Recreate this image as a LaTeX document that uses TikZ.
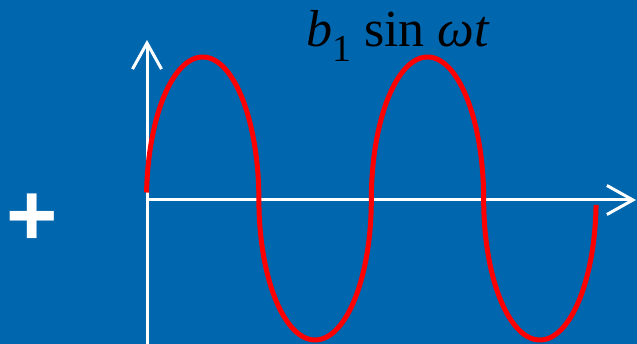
\documentclass[tikz,border=0pt]{standalone}
\usepackage{fontspec}
\setmainfont{Liberation Serif}
\newfontfamily\plusfont{Liberation Sans}
\usepackage{xcolor}
\usetikzlibrary{arrows.meta}
\definecolor{slideblue}{RGB}{0,103,174}
\definecolor{waved}{RGB}{255,0,0}
\tikzset{
  axis/.style={draw=white, line width=3pt, -{Straight Barb[length=26pt, width=29pt, line width=3pt]}},
  wave/.style={draw=waved, line width=5pt, line join=round},
  lbl/.style={font=\fontsize{52}{52}\selectfont, text=black, anchor=base west, inner sep=0pt},
  sign/.style={font=\plusfont\bfseries\fontsize{88}{88}\selectfont, text=white, inner sep=0pt},
}
\begin{document}
\begin{tikzpicture}[x=1pt, y=-1pt]
  \fill[slideblue] (0,0) rectangle (637,344);
  \clip (0,0) rectangle (637,344);
  \coordinate (o) at (147,200);
  \coordinate (ybot) at (147,344);
  \coordinate (ytop) at (147,40);
  \coordinate (xend) at (636,200);
  \draw[axis] (ybot) -- (ytop);
  \draw[axis] (o) -- (xend);
  % half ellipses, 112.4 apart
  \draw[wave] plot[domain=177:0, samples=90] ({202.7+56.2*cos(\x)}, {200-143*sin(\x)})
    -- plot[domain=180:360, samples=90] ({315.1+56.2*cos(\x)}, {200-140*sin(\x)})
    -- plot[domain=180:0, samples=90] ({427.5+56.2*cos(\x)}, {200-143*sin(\x)})
    -- plot[domain=180:358, samples=90] ({539.9+56.2*cos(\x)}, {200-140*sin(\x)});
  \node[lbl] (eq) at (306,47) {\textit{b}\lower15pt\hbox{\fontsize{38}{38}\selectfont 1} sin \textit{ωt}};
  \node[sign] (plus) at (32,220) {+};
\end{tikzpicture}
\end{document}
